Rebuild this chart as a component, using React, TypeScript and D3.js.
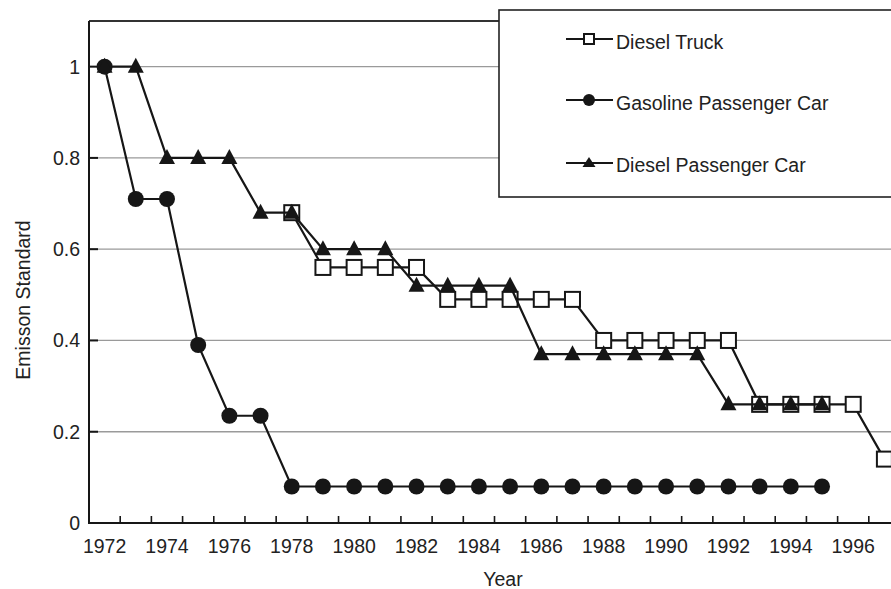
import React from "react";
import * as d3 from "d3";

const years: number[] = [
  1972, 1973, 1974, 1975, 1976, 1977, 1978, 1979, 1980, 1981, 1982, 1983, 1984,
  1985, 1986, 1987, 1988, 1989, 1990, 1991, 1992, 1993, 1994, 1995, 1996, 1997,
];

const dieselTruck: (number | null)[] = [
  null, null, null, null, null, null, 0.68, 0.56, 0.56, 0.56, 0.56, 0.49, 0.49,
  0.49, 0.49, 0.49, 0.4, 0.4, 0.4, 0.4, 0.4, 0.26, 0.26, 0.26, 0.26, 0.14,
];

const gasolineCar: (number | null)[] = [
  1.0, 0.71, 0.71, 0.39, 0.235, 0.235, 0.08, 0.08, 0.08, 0.08, 0.08, 0.08, 0.08,
  0.08, 0.08, 0.08, 0.08, 0.08, 0.08, 0.08, 0.08, 0.08, 0.08, 0.08, null, null,
];

const dieselCar: (number | null)[] = [
  1.0, 1.0, 0.8, 0.8, 0.8, 0.68, 0.68, 0.6, 0.6, 0.6, 0.52, 0.52, 0.52, 0.52,
  0.37, 0.37, 0.37, 0.37, 0.37, 0.37, 0.26, 0.26, 0.26, 0.26, null, null,
];

const yTicks: number[] = [0, 0.2, 0.4, 0.6, 0.8, 1];
const yTickLabels: string[] = ["0", "0.2", "0.4", "0.6", "0.8", "1"];
const xLabelYears: number[] = [1972, 1974, 1976, 1978, 1980, 1982, 1984, 1986, 1988, 1990, 1992, 1994, 1996];

const seriesNames: string[] = ["Diesel Truck", "Gasoline Passenger Car", "Diesel Passenger Car"];

const W = 891;
const H = 589;
const left = 89;
const top = 21;
const bottom = 523;
const right = 900;
const FONT = "'Liberation Sans', Arial, Helvetica, sans-serif";
const INK = "#161616";

function Square({ x, y, s = 15 }: { x: number; y: number; s?: number }) {
  return <rect x={x - s / 2} y={y - s / 2} width={s} height={s} fill="#fff" stroke={INK} strokeWidth={2} />;
}
function Circle({ x, y, r = 8 }: { x: number; y: number; r?: number }) {
  return <circle cx={x} cy={y} r={r} fill={INK} />;
}
function Triangle({ x, y, w = 16, h = 15 }: { x: number; y: number; w?: number; h?: number }) {
  const p = [
    [x, y - h * 0.6],
    [x + w / 2, y + h * 0.4],
    [x - w / 2, y + h * 0.4],
  ];
  return <polygon points={p.map((q) => q.join(",")).join(" ")} fill={INK} />;
}

export default function App() {
  const x = d3.scaleLinear().domain([1971.5, 1997.5]).range([left, right]);
  const y = d3.scaleLinear().domain([0, 1.1]).range([bottom, top]);

  const line = d3
    .line<[number, number | null]>()
    .defined((d) => d[1] != null)
    .x((d) => x(d[0]))
    .y((d) => y(d[1] as number));

  const pts = (vals: (number | null)[]) => years.map((yr, i) => [yr, vals[i]] as [number, number | null]);

  const minorTicks = d3.range(1972.5, 1997.5, 1);

  const legendRows = [
    { name: seriesNames[0], ly: 39, ty: 49, kind: "sq" },
    { name: seriesNames[1], ly: 100, ty: 110, kind: "ci" },
    { name: seriesNames[2], ly: 163, ty: 172, kind: "tr" },
  ];

  return (
    <svg
      width={W}
      height={H}
      style={{ position: "absolute", left: 0, top: 0, background: "#fff" }}
      fontFamily={FONT}
    >
      <rect x={0} y={0} width={W} height={H} fill="#fff" />
      {yTicks.slice(1).map((t) => (
        <line key={t} x1={left} x2={right} y1={y(t)} y2={y(t)} stroke="#9a9a9a" strokeWidth={1.3} />
      ))}
      <line x1={left} x2={right} y1={top} y2={top} stroke="#333" strokeWidth={2} />
      <line x1={left} x2={left} y1={top} y2={bottom} stroke={INK} strokeWidth={2} />
      <line x1={left - 1} x2={right} y1={bottom} y2={bottom} stroke={INK} strokeWidth={2} />
      {yTicks.map((t) => (
        <line key={"yt" + t} x1={left} x2={left + 9} y1={y(t)} y2={y(t)} stroke={INK} strokeWidth={2} />
      ))}
      {minorTicks.map((t) => (
        <line key={"xt" + t} x1={x(t)} x2={x(t)} y1={bottom} y2={bottom - 7} stroke={INK} strokeWidth={1.6} />
      ))}
      {yTicks.map((t, i) => (
        <text key={"yl" + t} x={80} y={y(t)} dy="0.36em" textAnchor="end" fontSize={19.5} fill="#222">
          {yTickLabels[i]}
        </text>
      ))}
      {xLabelYears.map((yr) => (
        <text key={"xl" + yr} x={x(yr)} y={553} textAnchor="middle" fontSize={19.5} fill="#222">
          {yr}
        </text>
      ))}
      <text x={503} y={586} textAnchor="middle" fontSize={19.5} fill="#222">
        Year
      </text>
      <text
        transform="translate(23,300) rotate(-90)"
        textAnchor="middle"
        dy="0.36em"
        fontSize={19.5}
        fill="#222"
      >
        Emisson Standard
      </text>

      <path d={line(pts(dieselTruck)) || ""} fill="none" stroke={INK} strokeWidth={2.2} />
      {pts(dieselTruck)
        .filter((d) => d[1] != null)
        .map((d) => (
          <Square key={"s" + d[0]} x={x(d[0])} y={y(d[1] as number)} />
        ))}
      <path d={line(pts(gasolineCar)) || ""} fill="none" stroke={INK} strokeWidth={2.2} />
      {pts(gasolineCar)
        .filter((d) => d[1] != null)
        .map((d) => (
          <Circle key={"c" + d[0]} x={x(d[0])} y={y(d[1] as number)} />
        ))}
      <path d={line(pts(dieselCar)) || ""} fill="none" stroke={INK} strokeWidth={2.2} />
      {pts(dieselCar)
        .filter((d) => d[1] != null)
        .map((d) => (
          <Triangle key={"t" + d[0]} x={x(d[0])} y={y(d[1] as number)} />
        ))}

      <rect x={499} y={10} width={420} height={187} fill="#fff" stroke="#222" strokeWidth={1.6} />
      {legendRows.map((r) => (
        <g key={r.name}>
          <line x1={566} x2={613} y1={r.ly} y2={r.ly} stroke={INK} strokeWidth={2.2} />
          {r.kind === "sq" && <Square x={589} y={r.ly} s={10} />}
          {r.kind === "ci" && <Circle x={589} y={r.ly} r={6} />}
          {r.kind === "tr" && <Triangle x={589} y={r.ly} w={13} h={10} />}
          <text x={616} y={r.ty} fontSize={19.5} fill="#222">
            {r.name}
          </text>
        </g>
      ))}
    </svg>
  );
}
